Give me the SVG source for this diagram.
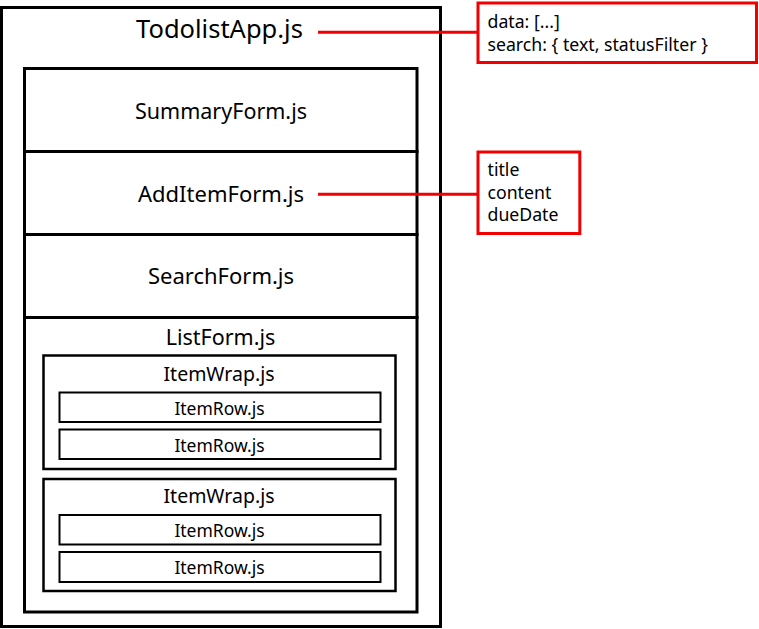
<svg xmlns="http://www.w3.org/2000/svg" width="759" height="629" viewBox="0 0 759 629">
<style>
.box{fill:none;stroke:#000}
.red{fill:none;stroke:#f00000;stroke-width:3}
.lbl{font-family:"Noto Sans","Open Sans",sans-serif;fill:#000;text-anchor:middle}
.note{font-family:"Noto Sans","Open Sans",sans-serif;fill:#000;font-size:17.7px}
</style>
<rect width="759" height="629" fill="#fff"/>
<g id="todolistApp">
<rect class="box" x="1.5" y="7.5" width="439" height="619" stroke-width="3"/>
<text class="lbl" x="219.5" y="37.5" font-size="25.5">TodolistApp.js</text>
</g>
<g id="summaryForm">
<rect class="box" x="24.5" y="68.5" width="392.5" height="83" stroke-width="3"/>
<text class="lbl" x="221" y="119" font-size="21.5">SummaryForm.js</text>
</g>
<g id="addItemForm">
<rect class="box" x="24.5" y="151.5" width="392.5" height="83" stroke-width="3"/>
<text class="lbl" x="221" y="201.7" font-size="22">AddItemForm.js</text>
</g>
<g id="searchForm">
<rect class="box" x="24.5" y="234.5" width="392.5" height="83" stroke-width="3"/>
<text class="lbl" x="221" y="284.3" font-size="22">SearchForm.js</text>
</g>
<g id="listForm">
<rect class="box" x="24.5" y="317.5" width="392.5" height="294.5" stroke-width="3"/>
<text class="lbl" x="220.5" y="345" font-size="21.5">ListForm.js</text>
</g>
<g id="itemWrap1">
<rect class="box" x="43.5" y="355.5" width="352" height="113.5" stroke-width="2.5"/>
<text class="lbl" x="219" y="380.7" font-size="19.5">ItemWrap.js</text>
</g>
<g id="itemRow1">
<rect class="box" x="59.5" y="392.5" width="321" height="29.5" stroke-width="2"/>
<text class="lbl" x="219.5" y="415" font-size="17.5">ItemRow.js</text>
</g>
<g id="itemRow2">
<rect class="box" x="59.5" y="429.5" width="321" height="29.5" stroke-width="2"/>
<text class="lbl" x="219.5" y="452" font-size="17.5">ItemRow.js</text>
</g>
<g id="itemWrap2">
<rect class="box" x="43.5" y="479" width="352" height="112" stroke-width="2.5"/>
<text class="lbl" x="219" y="502.7" font-size="19.5">ItemWrap.js</text>
</g>
<g id="itemRow3">
<rect class="box" x="59.5" y="515" width="321" height="29.5" stroke-width="2"/>
<text class="lbl" x="219.5" y="536.7" font-size="17.5">ItemRow.js</text>
</g>
<g id="itemRow4">
<rect class="box" x="59.5" y="552" width="321" height="30" stroke-width="2"/>
<text class="lbl" x="219.5" y="574" font-size="17.5">ItemRow.js</text>
</g>
<g id="connectors">
<line class="red" x1="318" y1="32.2" x2="478" y2="32.2"/>
<line class="red" x1="318" y1="194.3" x2="478" y2="194.3"/>
</g>
<g id="appState">
<rect class="red" x="478" y="3" width="278.5" height="59.5"/>
<text class="note" x="487.5" y="28.3">data: [...]</text>
<text class="note" x="487.5" y="50.7">search: { text, statusFilter }</text>
</g>
<g id="addItemState">
<rect class="red" x="478" y="152" width="101.8" height="81.5"/>
<text class="note" x="487.5" y="176">title</text>
<text class="note" x="487.5" y="199">content</text>
<text class="note" x="487.5" y="221.3">dueDate</text>
</g>
</svg>
